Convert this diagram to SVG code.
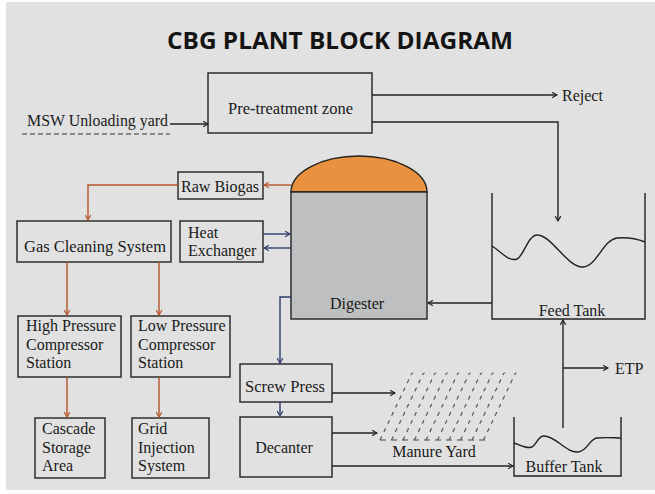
<svg xmlns="http://www.w3.org/2000/svg" width="655" height="494" viewBox="0 0 655 494">
<defs>
<style>
.t{font-family:"Liberation Serif","Times New Roman",serif;font-size:16px;fill:#1a1a1a}
.box{fill:none;stroke:#222;stroke-width:1.4}
.k{fill:none;stroke:#222;stroke-width:1.4}
.o{fill:none;stroke:#b5532a;stroke-width:1.4}
.b{fill:none;stroke:#2c3d6c;stroke-width:1.4}
.my{fill:none;stroke:#555;stroke-width:1.2;stroke-dasharray:4 5}
</style>
<marker id="ak" viewBox="0 0 10 10" refX="9" refY="5" markerWidth="7" markerHeight="7" orient="auto" markerUnits="userSpaceOnUse"><path d="M2,1 L9,5 L2,9" fill="none" stroke="#222" stroke-width="1.6"/></marker>
<marker id="ao" viewBox="0 0 10 10" refX="9" refY="5" markerWidth="7" markerHeight="7" orient="auto" markerUnits="userSpaceOnUse"><path d="M2,1 L9,5 L2,9" fill="none" stroke="#b5532a" stroke-width="1.6"/></marker>
<marker id="ab" viewBox="0 0 10 10" refX="9" refY="5" markerWidth="7" markerHeight="7" orient="auto" markerUnits="userSpaceOnUse"><path d="M2,1 L9,5 L2,9" fill="none" stroke="#2c3d6c" stroke-width="1.6"/></marker>
</defs>
<rect x="0" y="0" width="655" height="494" fill="#ffffff"/>
<rect x="6" y="2" width="649" height="488" fill="#e1e1e1"/>
<text x="340" y="49" text-anchor="middle" font-family="'Open Sans','Liberation Sans',sans-serif" font-weight="bold" font-size="23" fill="#141414" textLength="346" lengthAdjust="spacingAndGlyphs">CBG PLANT BLOCK DIAGRAM</text>

<g id="msw">
<text class="t" x="27" y="126" textLength="141" lengthAdjust="spacingAndGlyphs">MSW Unloading  yard</text>
<line x1="22" y1="134" x2="170" y2="134" stroke="#333" stroke-width="1.2" stroke-dasharray="5 3"/>
</g>
<g id="pretreatment">
<rect class="box" x="208" y="73" width="164" height="60"/>
<text class="t" x="228" y="114" textLength="125" lengthAdjust="spacingAndGlyphs">Pre-treatment zone</text>
</g>
<g id="reject"><text class="t" x="562" y="101">Reject</text></g>
<g id="feedtank">
<path class="k" d="M492,193 V319 H645 V193"/>
<path class="k" d="M492,246 C502,252 508,262 517,259 C524,256 528,234 538,235 C552,236 568,268 583,267 C597,266 603,240 617,238 C630,237 640,240 645,242"/>
<text class="t" x="572" y="316" text-anchor="middle">Feed Tank</text>
</g>
<g id="digester">
<path d="M291,192 A68,36 0 0 1 427,192 Z" fill="#e8913f" stroke="#222" stroke-width="1.4"/>
<rect x="291" y="192" width="136" height="127" fill="#bdbfc0" stroke="#222" stroke-width="1.4"/>
<text class="t" x="357" y="309" text-anchor="middle">Digester</text>
</g>
<g id="rawbiogas">
<rect class="box" x="178" y="172" width="85" height="27"/>
<text class="t" x="220" y="192" text-anchor="middle" textLength="78" lengthAdjust="spacingAndGlyphs">Raw Biogas</text>
</g>
<g id="gascleaning">
<rect class="box" x="17" y="221" width="154" height="41"/>
<text class="t" x="24" y="252" textLength="142" lengthAdjust="spacingAndGlyphs">Gas Cleaning  System</text>
</g>
<g id="heatexchanger">
<rect class="box" x="180" y="221" width="83" height="41"/>
<text class="t" x="188" y="238">Heat</text>
<text class="t" x="188" y="256">Exchanger</text>
</g>
<g id="hpcs">
<rect class="box" x="18" y="316" width="103" height="61"/>
<text class="t" x="26" y="331">High Pressure</text>
<text class="t" x="26" y="350">Compressor</text>
<text class="t" x="26" y="368">Station</text>
</g>
<g id="lpcs">
<rect class="box" x="131" y="316" width="99" height="61"/>
<text class="t" x="138" y="331">Low Pressure</text>
<text class="t" x="138" y="350">Compressor</text>
<text class="t" x="138" y="368">Station</text>
</g>
<g id="cascade">
<rect class="box" x="35" y="418" width="70" height="60"/>
<text class="t" x="42" y="434">Cascade</text>
<text class="t" x="42" y="453">Storage</text>
<text class="t" x="42" y="471">Area</text>
</g>
<g id="grid">
<rect class="box" x="132" y="418" width="77" height="60"/>
<text class="t" x="138" y="434">Grid</text>
<text class="t" x="138" y="453">Injection</text>
<text class="t" x="138" y="471">System</text>
</g>
<g id="screwpress">
<rect class="box" x="240" y="364" width="92" height="38"/>
<text class="t" x="245" y="392" textLength="80" lengthAdjust="spacingAndGlyphs">Screw  Press</text>
</g>
<g id="decanter">
<rect class="box" x="240" y="417" width="92" height="60"/>
<text class="t" x="284" y="453" text-anchor="middle">Decanter</text>
</g>
<g id="manureyard">
<line x1="412" y1="373" x2="520" y2="373" stroke="#777" stroke-width="1" stroke-dasharray="1.5 10"/>
<line x1="380" y1="440" x2="488" y2="440" stroke="#444" stroke-width="1.2" stroke-dasharray="6 5"/>
<line class="my" x1="380" y1="440" x2="412" y2="373"/>
<line class="my" x1="391.5" y1="440" x2="423.5" y2="373"/>
<line class="my" x1="403" y1="440" x2="435" y2="373"/>
<line class="my" x1="414.5" y1="440" x2="446.5" y2="373"/>
<line class="my" x1="426" y1="440" x2="458" y2="373"/>
<line class="my" x1="437.5" y1="440" x2="469.5" y2="373"/>
<line class="my" x1="449" y1="440" x2="481" y2="373"/>
<line class="my" x1="460.5" y1="440" x2="492.5" y2="373"/>
<line class="my" x1="472" y1="440" x2="504" y2="373"/>
<line class="my" x1="483.5" y1="440" x2="515.5" y2="373"/>
<text class="t" x="434" y="457" text-anchor="middle">Manure Yard</text>
</g>
<g id="buffertank">
<path class="k" d="M514,417 V476 H621 V417"/>
<path class="k" d="M514,443 C522,446 527,449 532,447 C537,444 538,436 544,436 C556,436 566,453 578,452 C588,451 589,439 597,438 C607,437 615,438 621,438"/>
<text class="t" x="564" y="472" text-anchor="middle">Buffer Tank</text>
</g>
<g id="etp"><text class="t" x="615" y="374">ETP</text></g>

<g id="connectors">
<line class="k" x1="170" y1="124" x2="208" y2="124" marker-end="url(#ak)"/>
<line class="k" x1="372" y1="95" x2="557" y2="95" marker-end="url(#ak)"/>
<path class="k" d="M372,122 H558 V221" marker-end="url(#ak)"/>
<line class="k" x1="492" y1="303" x2="428" y2="303" marker-end="url(#ak)"/>
<line class="o" x1="291" y1="185" x2="264" y2="185" marker-end="url(#ao)"/>
<path class="o" d="M178,185 H88 V220" marker-end="url(#ao)"/>
<line class="b" x1="263" y1="234" x2="290" y2="234" marker-end="url(#ab)"/>
<line class="b" x1="291" y1="248" x2="264" y2="248" marker-end="url(#ab)"/>
<line class="o" x1="67" y1="262" x2="67" y2="315" marker-end="url(#ao)"/>
<line class="o" x1="159" y1="262" x2="159" y2="315" marker-end="url(#ao)"/>
<line class="o" x1="67" y1="377" x2="67" y2="417" marker-end="url(#ao)"/>
<line class="o" x1="159" y1="377" x2="159" y2="417" marker-end="url(#ao)"/>
<path class="b" d="M291,297 H280 V363" marker-end="url(#ab)"/>
<line class="b" x1="280" y1="402" x2="280" y2="416" marker-end="url(#ab)"/>
<line class="k" x1="332" y1="393" x2="395" y2="393" marker-end="url(#ak)"/>
<line class="k" x1="332" y1="433" x2="377" y2="433" marker-end="url(#ak)"/>
<line class="k" x1="332" y1="466" x2="513" y2="466" marker-end="url(#ak)"/>
<line class="k" x1="563" y1="428" x2="563" y2="320" marker-end="url(#ak)"/>
<line class="k" x1="563" y1="368" x2="608" y2="368" marker-end="url(#ak)"/>
</g>
</svg>
